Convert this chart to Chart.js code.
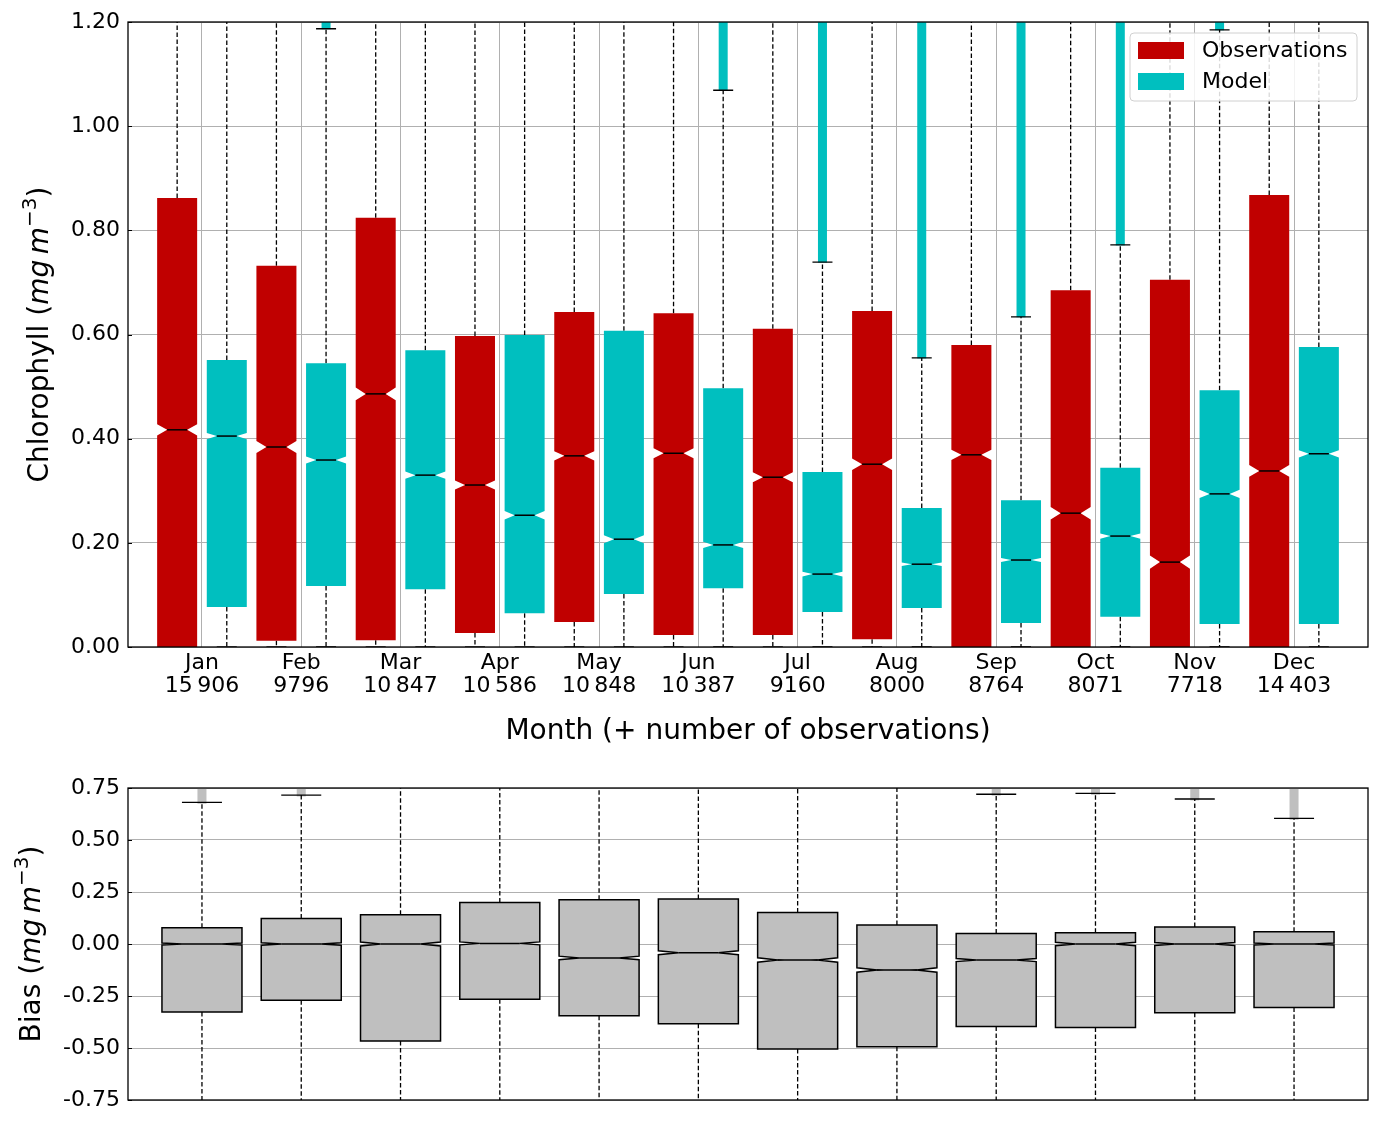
<!DOCTYPE html>
<html>
<head>
<meta charset="utf-8">
<script src="https://cdn.jsdelivr.net/npm/chart.js@4.4.1/dist/chart.umd.min.js"></script>
<style>
html, body { margin: 0; padding: 0; background: #fff; }
#wrap { position: relative; width: 1384px; height: 1122px; }
#top { position: absolute; left: 0; top: 0; width: 1384px; height: 760px; }
#bot { position: absolute; left: 0; top: 760px; width: 1384px; height: 362px; }
</style>
</head>
<body>
<div id="wrap">
  <div id="top"><canvas id="chl"></canvas></div>
  <div id="bot"><canvas id="bias"></canvas></div>
</div>
<script>
// month labels and number of observations
var months = ['Jan', 'Feb', 'Mar', 'Apr', 'May', 'Jun', 'Jul', 'Aug', 'Sep', 'Oct', 'Nov', 'Dec'];
var nObs = [15906, 9796, 10847, 10586, 10848, 10387, 9160, 8000, 8764, 8071, 7718, 14403];

// observations (null whisker = beyond the axis)
var obsQ1  = [0.000, 0.012, 0.013, 0.027, 0.048, 0.023, 0.023, 0.015, 0.000, 0.000, 0.000, 0.000];
var obsMed = [0.417, 0.384, 0.486, 0.311, 0.367, 0.372, 0.326, 0.351, 0.369, 0.257, 0.163, 0.338];
var obsQ3  = [0.862, 0.732, 0.824, 0.597, 0.643, 0.641, 0.611, 0.645, 0.580, 0.685, 0.705, 0.868];
var obsWhiskLo = [0, 0, 0, 0, 0, 0, 0, 0, 0, 0, 0, 0];
var obsWhiskHi = [null, null, null, null, null, null, null, null, null, null, null, null];
var obsFlierLo = [null, null, null, null, null, null, null, null, null, null, null, null];

// model
var modQ1  = [0.077, 0.117, 0.111, 0.065, 0.102, 0.113, 0.067, 0.075, 0.046, 0.058, 0.044, 0.044];
var modMed = [0.405, 0.359, 0.330, 0.253, 0.207, 0.196, 0.140, 0.159, 0.167, 0.213, 0.294, 0.371];
var modQ3  = [0.551, 0.545, 0.570, 0.599, 0.607, 0.497, 0.336, 0.267, 0.282, 0.344, 0.493, 0.576];
var modWhiskLo = [0, 0, 0, 0, 0, 0, 0, 0, 0, 0, 0, 0];
var modWhiskHi = [null, 1.187, null, null, null, 1.069, 0.739, 0.555, 0.634, 0.772, 1.185, null];
var modFlierLo = [null, 1.190, null, null, null, 1.072, 0.742, 0.558, 0.637, 0.775, 1.188, null];

// bias (model - observations)
var biasQ1  = [-0.327, -0.270, -0.466, -0.266, -0.345, -0.383, -0.505, -0.494, -0.397, -0.402, -0.330, -0.305];
var biasMed = [0.000, 0.000, 0.000, 0.003, -0.067, -0.042, -0.077, -0.125, -0.077, 0.000, 0.000, 0.000];
var biasQ3  = [0.078, 0.123, 0.141, 0.200, 0.213, 0.216, 0.151, 0.091, 0.050, 0.054, 0.082, 0.059];
var biasWhiskLo = [null, null, null, null, null, null, null, null, null, null, null, null];
var biasWhiskHi = [0.681, 0.716, null, null, null, null, null, null, 0.720, 0.724, 0.697, 0.604];
var biasFlierLo = [0.684, 0.719, null, null, null, null, null, null, 0.723, 0.727, 0.700, 0.607];

var chlTicks = [0, 0.2, 0.4, 0.6, 0.8, 1.0, 1.2];
var biasTicks = [-0.75, -0.5, -0.25, 0, 0.25, 0.5, 0.75];

Chart.defaults.font.family = 'DejaVu Sans';
Chart.defaults.color = '#000';

function fmtCount(n) {
  return n >= 10000 ? String(n).replace(/\B(?=(\d{3})+(?!\d))/g, '\u2009') : String(n);
}

function boxData(q1, q3) {
  return months.map(function(m, i) { return { x: i + 1, y: [q1[i], q3[i]] }; });
}

// draws notched boxes, whiskers, caps and flier columns for each bar dataset
var boxPlugin = {
  id: 'boxes',
  beforeDatasetDraw: function(chart, args) {
    var ds = chart.data.datasets[args.index];
    var ctx = chart.ctx, area = chart.chartArea, ys = chart.scales.y;
    var Y = function(v) { return ys.getPixelForValue(v); };
    ctx.save();
    ctx.beginPath();
    ctx.rect(area.left, area.top, area.right - area.left, area.bottom - area.top);
    ctx.clip();
    args.meta.data.forEach(function(bar, i) {
      var p = bar.getProps(['x', 'width'], true);
      var cx = p.x, w = p.width, L = cx - w / 2, R = cx + w / 2;
      var q1 = ds.data[i].y[0], q3 = ds.data[i].y[1], med = ds.med[i];
      var yHi = ds.hi[i] == null ? area.top - 5 : Y(ds.hi[i]);
      var yLo = ds.lo[i] == null ? area.bottom + 5 : Y(ds.lo[i]);
      // fliers
      if (ds.flier[i] != null) {
        ctx.fillStyle = ds.flierColor;
        ctx.fillRect(cx - 4.5, area.top - 2, 9, Y(ds.flier[i]) - area.top + 4);
      }
      // whiskers
      ctx.strokeStyle = '#000';
      ctx.lineWidth = 1.3;
      ctx.setLineDash([4.5, 2.5]);
      ctx.beginPath();
      ctx.moveTo(cx, Y(q3)); ctx.lineTo(cx, yHi);
      ctx.moveTo(cx, Y(q1)); ctx.lineTo(cx, yLo);
      ctx.stroke();
      ctx.setLineDash([]);
      // caps
      ctx.beginPath();
      if (ds.hi[i] != null) { ctx.moveTo(cx - w / 4, yHi); ctx.lineTo(cx + w / 4, yHi); }
      if (ds.lo[i] != null) { ctx.moveTo(cx - w / 4, yLo); ctx.lineTo(cx + w / 4, yLo); }
      ctx.stroke();
      // notched box
      var nh = 1.57 * (q3 - q1) / Math.sqrt(ds.n[i]);
      var a = Math.max(q1, med - nh), b = Math.min(q3, med + nh);
      ctx.beginPath();
      ctx.moveTo(L, Y(q1));
      ctx.lineTo(L, Y(a));
      ctx.lineTo(L + w / 4, Y(med));
      ctx.lineTo(L, Y(b));
      ctx.lineTo(L, Y(q3));
      ctx.lineTo(R, Y(q3));
      ctx.lineTo(R, Y(b));
      ctx.lineTo(R - w / 4, Y(med));
      ctx.lineTo(R, Y(a));
      ctx.lineTo(R, Y(q1));
      ctx.closePath();
      ctx.fillStyle = ds.backgroundColor;
      ctx.fill();
      if (ds.edge) {
        ctx.strokeStyle = ds.edge;
        ctx.lineWidth = 1.5;
        ctx.stroke();
      }
      // median
      ctx.strokeStyle = '#000';
      ctx.lineWidth = 1.5;
      ctx.beginPath();
      ctx.moveTo(L + w / 4, Y(med));
      ctx.lineTo(R - w / 4, Y(med));
      ctx.stroke();
    });
    ctx.restore();
    return false;
  }
};

function drawRotTitle(ctx, x, y, parts) {
  ctx.save();
  ctx.translate(x, y);
  ctx.rotate(-Math.PI / 2);
  ctx.textBaseline = 'alphabetic';
  ctx.fillStyle = '#000';
  var total = 0;
  parts.forEach(function(pt) { ctx.font = pt.font; pt.w = ctx.measureText(pt.t).width; total += pt.w; });
  var cur = -total / 2;
  parts.forEach(function(pt) {
    ctx.font = pt.font;
    ctx.fillText(pt.t, cur, 10 + (pt.dy || 0));
    cur += pt.w;
  });
  ctx.restore();
}

function unitParts(name) {
  return [
    { t: name + ' (', font: '28px DejaVu Sans' },
    { t: 'mg', font: 'italic 28px DejaVu Sans' },
    { t: '\u2009', font: '28px DejaVu Sans' },
    { t: 'm', font: 'italic 28px DejaVu Sans' },
    { t: '\u22123', font: '20px DejaVu Sans', dy: -12 },
    { t: ')', font: '28px DejaVu Sans' }
  ];
}

function frameAndTicks(chart) {
  var ctx = chart.ctx, a = chart.chartArea, ys = chart.scales.y;
  ctx.save();
  ctx.strokeStyle = '#000';
  ctx.lineWidth = 1;
  ctx.beginPath();
  ys.ticks.forEach(function(t) {
    var py = Math.round(ys.getPixelForValue(t.value)) + 0.5;
    ctx.moveTo(a.left, py); ctx.lineTo(a.left + 4, py);
  });
  ctx.stroke();
  ctx.lineWidth = 1.3;
  ctx.strokeRect(a.left, a.top, a.right - a.left, a.bottom - a.top);
  ctx.restore();
}

var chlDeco = {
  id: 'chlDeco',
  afterDraw: function(chart) {
    var ctx = chart.ctx, a = chart.chartArea;
    frameAndTicks(chart);
    drawRotTitle(ctx, 38, (a.top + a.bottom) / 2, unitParts('Chlorophyll'));
    ctx.save();
    ctx.font = '28px DejaVu Sans';
    ctx.textAlign = 'center';
    ctx.textBaseline = 'middle';
    ctx.fillStyle = '#000';
    ctx.fillText('Month (+ number of observations)', (a.left + a.right) / 2, 732);
    // legend
    var bx = a.right - 238, by = a.top + 11, bw = 227, bh = 68;
    ctx.beginPath();
    ctx.roundRect(bx, by, bw, bh, 4);
    ctx.fillStyle = 'rgba(255,255,255,0.85)';
    ctx.fill();
    ctx.strokeStyle = '#d0d0d0';
    ctx.lineWidth = 1;
    ctx.stroke();
    ctx.textAlign = 'left';
    ctx.font = '22px DejaVu Sans';
    chart.data.datasets.forEach(function(ds, k) {
      var cy = by + 17.5 + k * 31;
      ctx.fillStyle = ds.backgroundColor;
      ctx.fillRect(bx + 8, cy - 8.5, 46, 17);
      ctx.fillStyle = '#000';
      ctx.fillText(ds.label, bx + 72, cy + 1);
    });
    ctx.restore();
  }
};

var biasDeco = {
  id: 'biasDeco',
  afterDraw: function(chart) {
    var a = chart.chartArea;
    frameAndTicks(chart);
    drawRotTitle(chart.ctx, 30, (a.top + a.bottom) / 2, unitParts('Bias'));
  }
};

function xScale(showLabels) {
  return {
    type: 'linear',
    min: 0.255,
    max: 12.745,
    offset: false,
    display: true,
    afterBuildTicks: function(s) { s.ticks = months.map(function(m, i) { return { value: i + 1 }; }); },
    afterFit: function(s) { s.height = showLabels ? 113 : 22; },
    grid: { display: showLabels, offset: false, color: '#b0b0b0', lineWidth: 1, drawTicks: false },
    border: { display: false },
    ticks: {
      display: showLabels,
      padding: 5,
      autoSkip: false,
      maxRotation: 0,
      font: { size: 22, lineHeight: 1.05 },
      callback: function(v) { return [months[v - 1], fmtCount(nObs[v - 1])]; }
    }
  };
}

function yScale(min, max, ticks) {
  return {
    type: 'linear',
    min: min,
    max: max,
    afterBuildTicks: function(s) { s.ticks = ticks.map(function(v) { return { value: v }; }); },
    afterFit: function(s) { s.width = 128; },
    grid: { color: '#b0b0b0', lineWidth: 1, drawTicks: false },
    border: { display: false },
    ticks: {
      padding: 8,
      font: { size: 22 },
      callback: function(v) { return v.toFixed(2); }
    }
  };
}

document.addEventListener('DOMContentLoaded', function() {
  new Chart(document.getElementById('chl').getContext('2d'), {
    type: 'bar',
    data: {
      datasets: [{
        label: 'Observations',
        data: boxData(obsQ1, obsQ3),
        med: obsMed, lo: obsWhiskLo, hi: obsWhiskHi, flier: obsFlierLo, n: nObs,
        backgroundColor: '#c00000',
        flierColor: '#c00000',
        edge: null
      }, {
        label: 'Model',
        data: boxData(modQ1, modQ3),
        med: modMed, lo: modWhiskLo, hi: modWhiskHi, flier: modFlierLo, n: nObs,
        backgroundColor: '#00bfbf',
        flierColor: '#00bfbf',
        edge: null
      }]
    },
    options: {
      responsive: true,
      maintainAspectRatio: false,
      animation: false,
      categoryPercentage: 1.0,
      barPercentage: 0.806,
      layout: { padding: { top: 22, right: 16, left: 0, bottom: 0 } },
      plugins: { legend: { display: false }, tooltip: { enabled: false } },
      scales: { x: xScale(true), y: yScale(0, 1.2, chlTicks) }
    },
    plugins: [boxPlugin, chlDeco]
  });

  new Chart(document.getElementById('bias').getContext('2d'), {
    type: 'bar',
    data: {
      datasets: [{
        label: 'Bias',
        data: boxData(biasQ1, biasQ3),
        med: biasMed, lo: biasWhiskLo, hi: biasWhiskHi, flier: biasFlierLo, n: nObs,
        backgroundColor: '#bfbfbf',
        flierColor: '#bfbfbf',
        edge: '#000'
      }]
    },
    options: {
      responsive: true,
      maintainAspectRatio: false,
      animation: false,
      categoryPercentage: 1.0,
      barPercentage: 0.806,
      layout: { padding: { top: 28, right: 16, left: 0, bottom: 0 } },
      plugins: { legend: { display: false }, tooltip: { enabled: false } },
      scales: { x: xScale(false), y: yScale(-0.75, 0.75, biasTicks) }
    },
    plugins: [boxPlugin, biasDeco]
  });
});
</script>
</body>
</html>
